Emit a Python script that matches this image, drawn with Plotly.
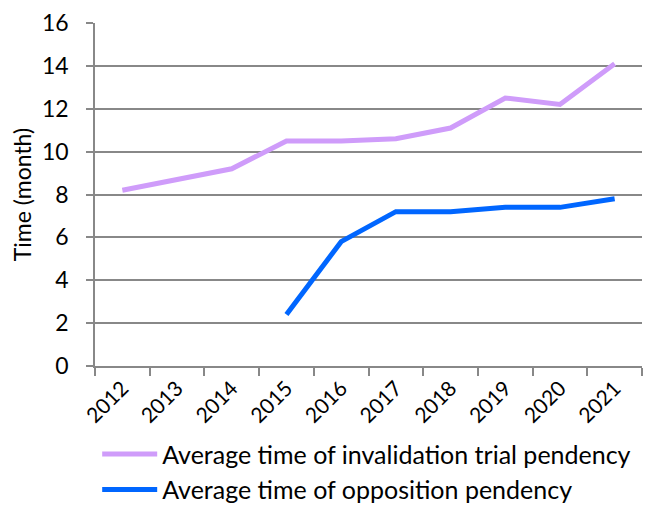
import plotly.graph_objects as go

years = ["2012", "2013", "2014", "2015", "2016", "2017", "2018", "2019", "2020", "2021"]
invalidation = [8.2, 8.7, 9.2, 10.5, 10.5, 10.6, 11.1, 12.5, 12.2, 14.1]
opposition = [None, None, None, 2.4, 5.8, 7.2, 7.2, 7.4, 7.4, 7.8]
name_inv = "Average time of invalidation trial pendency"
name_opp = "Average time of opposition pendency"
y_ticks = [0, 2, 4, 6, 8, 10, 12, 14, 16]

FONT = "Lato, sans-serif"
GRID = "#888888"

fig = go.Figure()
fig.add_trace(go.Scatter(x=years, y=invalidation, mode="lines", name=name_inv,
                         line=dict(color="#CF9CFA", width=5)))
fig.add_trace(go.Scatter(x=years, y=opposition, mode="lines", name=name_opp,
                         line=dict(color="#0066FF", width=5), connectgaps=False))

fig.update_layout(
    width=643, height=497,
    margin=dict(l=87, r=9, t=15, b=139, autoexpand=False),
    paper_bgcolor="white", plot_bgcolor="white",
    font=dict(family=FONT, size=22, color="#000000"),
    showlegend=True,
    legend=dict(orientation="v", x=0.004, xanchor="left", y=-0.19, yanchor="top",
                font=dict(family=FONT, size=25, color="#000000"),
                itemwidth=55, tracegroupgap=0, bgcolor="rgba(0,0,0,0)"),
)
fig.update_xaxes(type="category", tickangle=-45, tickson="boundaries",
                 ticks="outside", ticklen=8, tickcolor=GRID, tickwidth=1.5,
                 showline=True, linecolor=GRID, linewidth=1.5, showgrid=False,
                 automargin=False,
                 tickfont=dict(family=FONT, size=21), range=[-0.5, 9.5])
fig.update_yaxes(range=[0, 16], tickvals=y_ticks, ticks="outside", ticklen=7,
                 tickcolor=GRID, tickwidth=1.5, showline=True, linecolor=GRID,
                 linewidth=1.5, showgrid=True, gridcolor=GRID, gridwidth=1.5,
                 zeroline=False, automargin=False, ticklabeloverflow="allow",
                 ticklabelstandoff=13,
                 tickfont=dict(family=FONT, size=23),
                 title=dict(text="Time (month)", font=dict(family=FONT, size=23), standoff=8))

fig.write_html("out.html")
